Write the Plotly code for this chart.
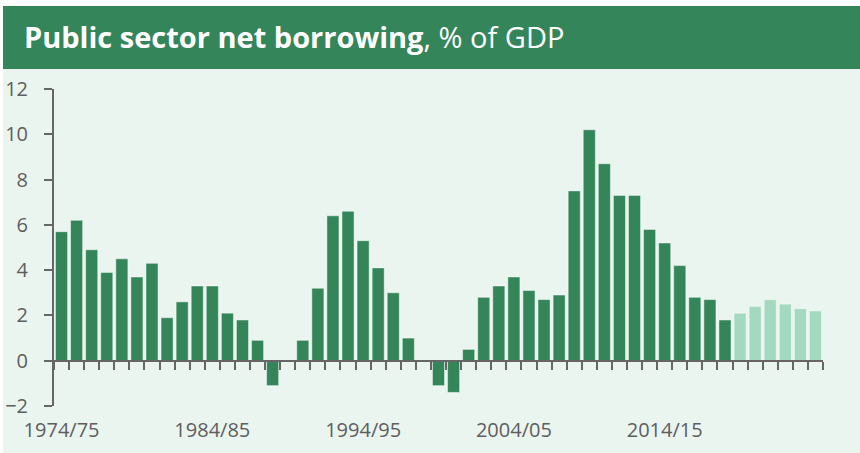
import plotly.graph_objects as go

# ---- data ----
years = ["1974/75", "1975/76", "1976/77", "1977/78", "1978/79", "1979/80", "1980/81",
         "1981/82", "1982/83", "1983/84", "1984/85", "1985/86", "1986/87", "1987/88",
         "1988/89", "1989/90", "1990/91", "1991/92", "1992/93", "1993/94", "1994/95",
         "1995/96", "1996/97", "1997/98", "1998/99", "1999/00", "2000/01", "2001/02",
         "2002/03", "2003/04", "2004/05", "2005/06", "2006/07", "2007/08", "2008/09",
         "2009/10", "2010/11", "2011/12", "2012/13", "2013/14", "2014/15", "2015/16",
         "2016/17", "2017/18", "2018/19", "2019/20", "2020/21", "2021/22", "2022/23",
         "2023/24", "2024/25"]
outturn = [5.7, 6.2, 4.9, 3.9, 4.5, 3.7, 4.3, 1.9, 2.6, 3.3, 3.3, 2.1, 1.8, 0.9,
           -1.1, 0.0, 0.9, 3.2, 6.4, 6.6, 5.3, 4.1, 3.0, 1.0, 0.0, -1.1, -1.4, 0.5,
           2.8, 3.3, 3.7, 3.1, 2.7, 2.9, 7.5, 10.2, 8.7, 7.3, 7.3, 5.8, 5.2, 4.2,
           2.8, 2.7, 1.8]
forecast = [2.1, 2.4, 2.7, 2.5, 2.3, 2.2]
tick_labels = ["1974/75", "1984/85", "1994/95", "2004/05", "2014/15"]
y_ticks = [-2, 0, 2, 4, 6, 8, 10, 12]

pos = {y: i for i, y in enumerate(years)}
n_out = len(outturn)
x_out = [pos[y] for y in years[:n_out]]
x_fc = [pos[y] for y in years[n_out:n_out + len(forecast)]]
x_all = [pos[y] for y in years]

DARK = "#35855a"
LIGHT = "#a3d9bf"
MINT = "#ebf5f0"
GREY = "#5e5e5e"
AX = "#666666"

fig = go.Figure()
fig.add_trace(go.Bar(x=x_out, y=outturn, marker=dict(color=DARK,
                     line=dict(color="rgba(255,255,255,0.45)", width=1)),
                     name="Outturn", hoverinfo="skip"))
fig.add_trace(go.Bar(x=x_fc, y=forecast, marker=dict(color=LIGHT,
                     line=dict(color="rgba(255,255,255,0.5)", width=1)),
                     name="Forecast", hoverinfo="skip"))
# carrier for the zero-line axis with boundary ticks (draws nothing)
fig.add_trace(go.Scatter(x=x_all, y=[None] * len(x_all), mode="lines",
                         xaxis="x2", yaxis="y", hoverinfo="skip",
                         showlegend=False))

# plot area geometry (pixels) for the decorative frame
L, T, W, H = 54, 89, 769, 317
def px(x):
    return (x - L) / W
def py(y):
    return (T + H - y) / H

fig.update_layout(
    width=860, height=453,
    margin=dict(l=L, r=860 - L - W, t=T, b=453 - T - H),
    paper_bgcolor="white", plot_bgcolor=MINT,
    showlegend=False, bargap=0.2,
    font=dict(family="Open Sans", color=GREY, size=20),
    xaxis=dict(range=[-0.5, len(years) - 0.5], tickmode="array",
               tickvals=[pos[t] for t in tick_labels], ticktext=tick_labels,
               showline=False, showgrid=False, zeroline=False, ticks="",
               automargin=False,
               ticklabelstandoff=10, tickfont=dict(size=20, color=GREY)),
    xaxis2=dict(range=[-0.5, len(years) - 0.5], overlaying="x", anchor="free",
                position=2 / 14, side="bottom", showticklabels=False,
                tickmode="linear", tick0=-0.5, dtick=1, ticks="outside",
                ticklen=8, tickwidth=2, tickcolor=AX, showline=True,
                linecolor=AX, linewidth=2, showgrid=False, zeroline=False,
                automargin=False),
    yaxis=dict(range=[-2, 12], tickmode="array", tickvals=y_ticks,
               showline=True, linecolor=AX, linewidth=2, ticks="outside",
               ticklen=8, tickwidth=2, tickcolor=AX, showgrid=False,
               zeroline=False, ticklabelstandoff=12, automargin=False,
               tickfont=dict(size=20, color=GREY)),
    shapes=[
        dict(type="rect", xref="paper", yref="paper", layer="below",
             x0=px(3), x1=px(860), y0=py(453), y1=py(69),
             fillcolor=MINT, line=dict(width=0)),
        dict(type="rect", xref="paper", yref="paper", layer="below",
             x0=px(3), x1=px(860), y0=py(69), y1=py(6),
             fillcolor="#35855b", line=dict(width=0)),
    ],
    annotations=[dict(xref="paper", yref="paper", x=px(22), y=py(37),
                      xanchor="left", yanchor="middle", showarrow=False,
                      text="<b>Public sector net borrowing</b>, % of GDP",
                      font=dict(family="Open Sans", size=29, color="white"))],
)

fig.write_html("out.html")
